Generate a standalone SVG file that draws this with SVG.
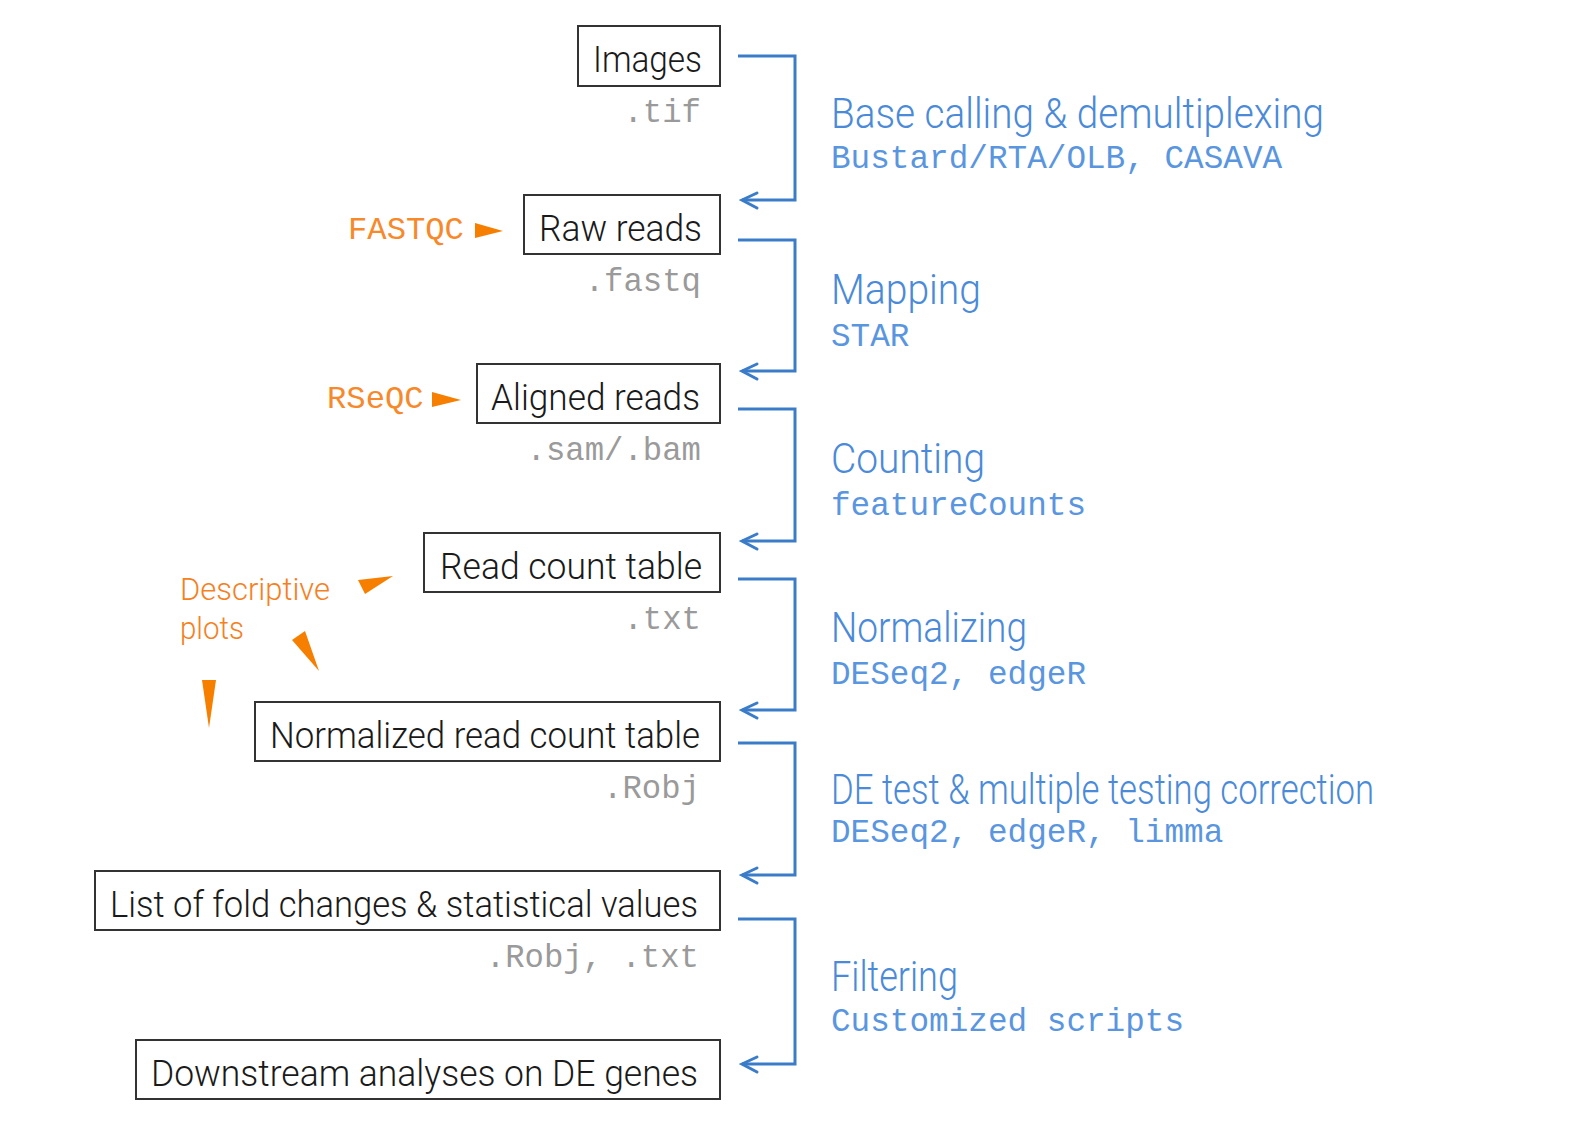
<svg xmlns="http://www.w3.org/2000/svg" width="1577" height="1125" viewBox="0 0 1577 1125">
<style>
.box{fill:#fff;stroke:#333;stroke-width:2}
.lbl{font-family:Roboto,"Liberation Sans",sans-serif;font-weight:300;font-size:36px;fill:#1a1a1a}
.ext{font-family:"Liberation Mono",monospace;font-size:32.3px;fill:#9a9a9a;text-anchor:end}
.ttl{font-family:Roboto,"Liberation Sans",sans-serif;font-weight:300;font-size:42px;fill:#4a8ad8}
.tool{font-family:"Liberation Mono",monospace;font-size:32.7px;fill:#5a96e0}
.qc{font-family:"Liberation Mono",monospace;font-size:32.2px;fill:#f7892a}
.orl{font-family:Roboto,"Liberation Sans",sans-serif;font-weight:300;font-size:32px;fill:#f5801e}
.con{fill:none;stroke:#3b7cc9;stroke-width:3;stroke-linejoin:miter}
.ah{fill:none;stroke:#3b7cc9;stroke-width:3;stroke-linecap:round}
.or{fill:#f77f00}
</style>
<rect width="1577" height="1125" fill="#fff"/>
<g id="node-images">
<rect class="box" x="578" y="26" width="142" height="60"/>
<text class="lbl" x="593" y="72" textLength="109" lengthAdjust="spacingAndGlyphs">Images</text>
<text class="ext" x="701" y="122">.tif</text>
</g>
<g id="node-raw">
<rect class="box" x="524" y="195" width="196" height="59"/>
<text class="lbl" x="539" y="241" textLength="163" lengthAdjust="spacingAndGlyphs">Raw reads</text>
<text class="ext" x="701" y="291">.fastq</text>
</g>
<g id="node-aligned">
<rect class="box" x="477" y="364" width="243" height="59"/>
<text class="lbl" x="491" y="410" textLength="209" lengthAdjust="spacingAndGlyphs">Aligned reads</text>
<text class="ext" x="701" y="460">.sam/.bam</text>
</g>
<g id="node-count">
<rect class="box" x="424" y="533" width="296" height="59"/>
<text class="lbl" x="440" y="579" textLength="262" lengthAdjust="spacingAndGlyphs">Read count table</text>
<text class="ext" x="701" y="629">.txt</text>
</g>
<g id="node-norm">
<rect class="box" x="255" y="702" width="465" height="59"/>
<text class="lbl" x="270" y="748" textLength="430" lengthAdjust="spacingAndGlyphs">Normalized read count table</text>
<text class="ext" x="700" y="798">.Robj</text>
</g>
<g id="node-list">
<rect class="box" x="95" y="871" width="625" height="59"/>
<text class="lbl" x="110" y="917" textLength="588" lengthAdjust="spacingAndGlyphs">List of fold changes &amp; statistical values</text>
<text class="ext" x="699" y="967">.Robj, .txt</text>
</g>
<g id="node-downstream">
<rect class="box" x="136" y="1040" width="584" height="59"/>
<text class="lbl" x="151" y="1086" textLength="547" lengthAdjust="spacingAndGlyphs">Downstream analyses on DE genes</text>
</g>
<g id="steps">
<text class="ttl" x="831" y="128" textLength="493" lengthAdjust="spacingAndGlyphs">Base calling &amp; demultiplexing</text>
<text class="tool" x="831" y="168">Bustard/RTA/OLB, CASAVA</text>
<text class="ttl" x="831" y="304" textLength="150" lengthAdjust="spacingAndGlyphs">Mapping</text>
<text class="tool" x="831" y="346">STAR</text>
<text class="ttl" x="831" y="473" textLength="154" lengthAdjust="spacingAndGlyphs">Counting</text>
<text class="tool" x="831" y="515">featureCounts</text>
<text class="ttl" x="831" y="642" textLength="196" lengthAdjust="spacingAndGlyphs">Normalizing</text>
<text class="tool" x="831" y="684">DESeq2, edgeR</text>
<text class="ttl" x="831" y="804" textLength="543" lengthAdjust="spacingAndGlyphs">DE test &amp; multiple testing correction</text>
<text class="tool" x="831" y="842">DESeq2, edgeR, limma</text>
<text class="ttl" x="831" y="991" textLength="127" lengthAdjust="spacingAndGlyphs">Filtering</text>
<text class="tool" x="831" y="1031">Customized scripts</text>
</g>
<g id="qc">
<text class="qc" x="348" y="239">FASTQC</text>
<polygon class="or" points="475,223 475,238 503,231"/>
<text class="qc" x="327" y="408">RSeQC</text>
<polygon class="or" points="432,392 432,407 461,400"/>
<text class="orl" x="180" y="600" textLength="150" lengthAdjust="spacingAndGlyphs">Descriptive</text>
<text class="orl" x="180" y="639" textLength="64" lengthAdjust="spacingAndGlyphs">plots</text>
<polygon class="or" points="358,580 365,594 393,576"/>
<polygon class="or" points="292,640 305,631 319,671"/>
<polygon class="or" points="202,680 216,680 209,728"/>
</g>
<g id="connectors">
<path class="con" d="M738,56 H795 V200 H742"/>
<path class="ah" d="M757,193 L742,200 L757,208"/>
<path class="con" d="M738,240 H795 V371 H742"/>
<path class="ah" d="M757,364 L742,371 L757,379"/>
<path class="con" d="M738,409 H795 V541 H742"/>
<path class="ah" d="M757,534 L742,541 L757,549"/>
<path class="con" d="M738,579 H795 V710 H742"/>
<path class="ah" d="M757,703 L742,710 L757,718"/>
<path class="con" d="M738,743 H795 V875 H742"/>
<path class="ah" d="M757,868 L742,875 L757,883"/>
<path class="con" d="M738,919 H795 V1064 H742"/>
<path class="ah" d="M757,1057 L742,1064 L757,1072"/>
</g>
</svg>
